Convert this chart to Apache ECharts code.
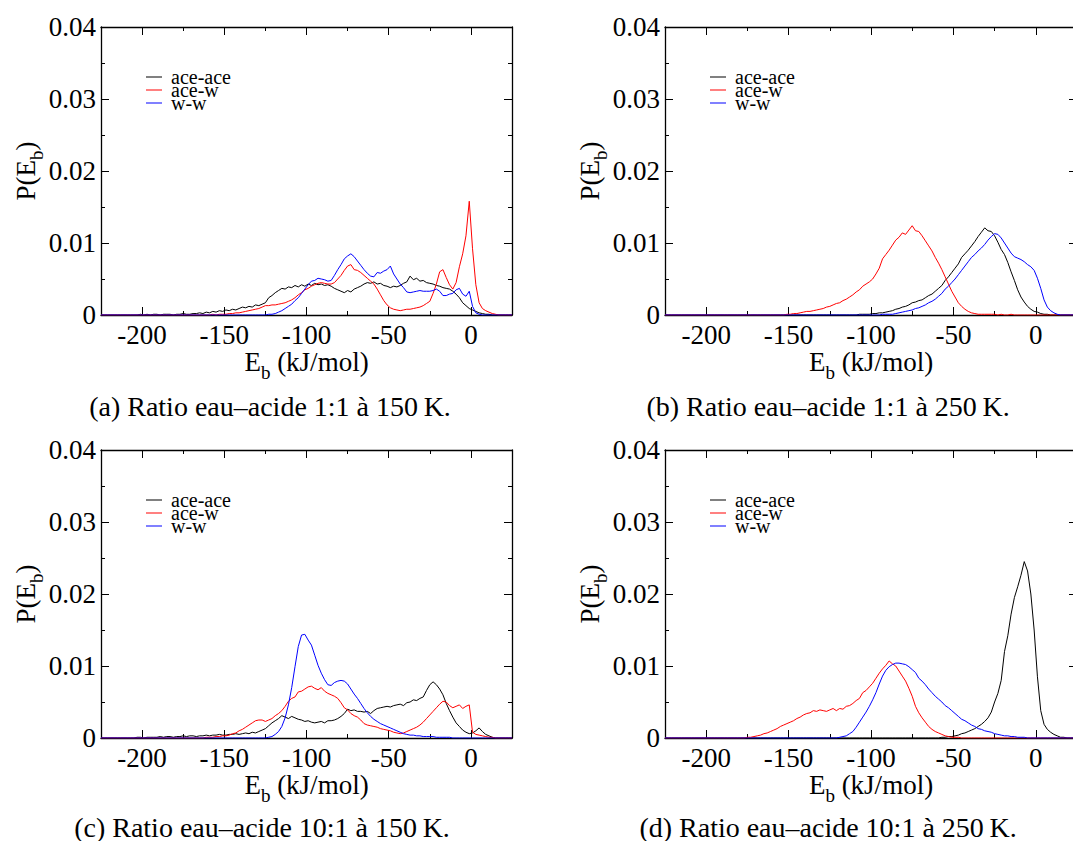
<!DOCTYPE html>
<html><head><meta charset="utf-8">
<script src="https://cdn.jsdelivr.net/npm/echarts@6/dist/echarts.min.js"></script>
<style>html,body{margin:0;padding:0;background:#fff}#c{width:1073px;height:841px}</style>
</head><body><div id="c"></div>
<script>
// Binding energy grid E_b (kJ/mol)
const eb = [-225,-223,-221,-219,-217,-215,-213,-211,-209,-207,
 -205,-203,-201,-199,-197,-195,-193,-191,-189,-187,
 -185,-183,-181,-179,-177,-175,-173,-171,-169,-167,
 -165,-163,-161,-159,-157,-155,-153,-151,-149,-147,
 -145,-143,-141,-139,-137,-135,-133,-131,-129,-127,
 -125,-123,-121,-119,-117,-115,-113,-111,-109,-107,
 -105,-103,-101,-99,-97,-95,-93,-91,-89,-87,
 -85,-83,-81,-79,-77,-75,-73,-71,-69,-67,
 -65,-63,-61,-59,-57,-55,-53,-51,-49,-47,
 -45,-43,-41,-39,-37,-35,-33,-31,-29,-27,
 -25,-23,-21,-19,-17,-15,-13,-11,-9,-7,
 -5,-3,-1,1,3,5,7,9,11,13,
 15,17,19,21,23,25];

// P(E_b) values in units of 1e-4
// (a) 1:1 at 150 K
const aAceAce = [0,0,0,0,0,0,0,0,0,0, 0,0,1,0,1,0,1,1,0,1, 1,1,0,1,1,2,1,1,2,2, 3,2,4,3,5,4,6,5,7,6,
 8,7,9,11,10,12,11,14,13,15, 17,24,27,31,34,37,36,39,38,41, 39,42,40,43,41,44,42,43,41,42,
 40,37,35,33,31,34,32,36,38,40, 43,45,44,46,43,44,41,40,38,40, 39,41,44,46,54,49,51,47,48,45,
 44,43,41,40,38,37,36,33,29,24, 17,13,9,7,5,3,2,1,1,0, 0,0,0,0,0,0];
const aAceW = [0,0,0,0,0,0,0,0,0,0, 0,0,0,0,0,0,0,0,0,0, 0,0,0,0,0,0,0,0,0,0, 0,0,0,0,1,0,1,1,1,2,
 2,3,3,4,5,6,7,8,9,11, 13,13,14,14,15,16,17,19,21,24, 28,31,35,37,40,42,44,45,44,43,
 43,45,50,55,62,68,70,63,62,59, 55,51,47,43,36,28,20,14,10,8, 7,6,7,8,8,9,10,11,13,16,
 19,30,43,60,63,52,42,36,45,67, 85,110,158,92,42,17,9,6,4,2, 1,0,0,0,0,0];
const aWW = [0,0,0,0,0,0,0,0,0,0, 0,0,0,0,0,0,0,0,0,0, 0,0,0,0,0,0,0,0,0,0, 0,0,0,0,0,0,0,0,0,0,
 0,0,0,0,0,0,0,0,0,0, 0,1,1,2,4,6,9,12,15,20, 24,30,36,42,47,48,51,50,49,47,
 48,55,63,70,78,82,85,81,75,69, 63,58,54,53,59,58,61,63,68,57, 50,43,38,32,31,32,33,34,33,33,
 33,34,36,33,27,27,29,30,35,37, 29,26,33,12,3,1,0,0,0,0, 0,0,0,0,0,0];
// (b) 1:1 at 250 K
const bAceAce = [0,0,0,0,0,0,0,0,0,0, 0,0,0,0,0,0,0,0,0,0, 0,0,0,0,0,0,0,0,0,0, 0,0,0,0,0,0,0,0,0,0,
 0,0,0,0,0,0,0,0,0,0, 0,0,0,0,0,0,0,0,0,1, 1,1,1,2,2,3,3,4,5,6,
 8,9,11,12,14,17,18,20,21,24, 27,29,33,37,41,48,53,59,65,71, 80,85,90,96,102,109,115,121,117,116,
 110,101,91,84,73,60,48,35,25,18, 12,8,5,4,2,1,1,0,0,0, 0,0,0,0,0,0];
const bAceW = [0,0,0,0,0,0,0,0,0,0, 0,0,0,0,0,0,0,0,0,0, 0,0,0,0,0,0,0,0,0,0, 0,0,0,0,0,0,0,1,1,2,
 2,3,4,5,5,6,7,8,9,11, 12,14,16,17,20,22,25,28,32,35, 40,43,46,50,57,65,78,84,90,97,
 104,108,114,112,118,124,117,116,110,103, 96,89,80,72,63,53,43,33,25,17, 12,8,5,3,2,1,1,1,1,1,
 1,0,1,0,0,1,0,0,0,0, 0,0,0,0,0,0,0,0,0,0, 0,0,0,0,0,0];
const bWW = [0,0,0,0,0,0,0,0,0,0, 0,0,0,0,0,0,0,0,0,0, 0,0,0,0,0,0,0,0,0,0, 0,0,0,0,0,0,0,0,0,0,
 0,0,0,0,0,0,0,0,0,0, 0,0,0,0,0,0,0,0,0,0, 0,0,0,0,0,0,1,1,1,1,
 2,3,4,5,6,7,9,10,12,14, 17,19,22,26,30,36,40,45,50,56, 62,68,74,80,84,89,93,98,104,109,
 113,112,107,100,93,86,81,79,77,74, 70,67,62,51,37,21,11,6,3,1, 0,0,0,0,0,0];
// (c) 10:1 at 150 K
const cAceAce = [0,0,0,0,0,0,0,0,0,0, 0,1,1,0,1,1,1,1,2,1, 2,2,1,2,2,3,2,3,3,2, 3,3,4,3,4,4,5,4,4,5,
 5,6,5,6,7,6,8,7,9,11, 13,17,21,24,27,31,29,27,30,28, 26,25,23,24,22,21,22,23,21,24,
 24,25,27,30,34,40,38,39,37,37, 36,37,34,38,41,42,43,44,43,45, 46,47,45,49,50,53,52,55,57,66,
 74,78,74,68,60,48,38,29,21,16, 11,8,6,7,10,14,9,5,3,1, 0,0,0,0,0,0];
const cAceW = [0,0,0,0,0,0,0,0,0,0, 0,0,0,0,0,0,0,0,0,0, 0,0,0,0,0,0,0,0,0,0, 0,0,1,1,1,2,2,3,3,4,
 6,7,10,12,15,18,21,24,25,25, 23,25,27,31,34,38,44,51,55,57, 64,65,68,71,72,69,67,70,65,62,
 60,58,55,49,42,39,34,31,29,25, 20,18,17,16,15,13,12,11,10,8, 7,6,7,9,11,13,15,18,22,27,
 32,37,42,47,51,50,45,42,44,46, 41,44,46,8,5,4,3,2,1,1, 0,0,0,0,0,0];
const cWW = [0,0,0,0,0,0,0,0,0,0, 0,0,0,0,0,0,0,0,0,0, 0,0,0,0,0,0,0,0,0,0, 0,0,0,0,0,0,0,0,0,0,
 0,0,0,0,0,0,0,0,0,0, 0,1,2,5,9,16,28,46,70,99, 127,143,144,136,129,115,101,90,81,74,
 73,77,79,80,79,75,68,61,55,48, 41,35,30,26,23,20,18,16,14,12, 10,8,6,5,4,4,3,3,2,2,
 2,2,1,1,1,1,1,0,0,0, 0,0,0,0,0,0,0,0,0,0, 0,0,0,0,0,0];
// (d) 10:1 at 250 K
const dAceAce = [0,0,0,0,0,0,0,0,0,0, 0,0,0,0,0,0,0,0,0,0, 0,0,0,0,0,0,0,0,0,0, 0,0,0,0,0,0,0,0,0,0,
 0,0,0,0,0,0,0,0,0,0, 0,0,0,0,0,0,0,0,0,0, 0,0,0,0,0,0,0,0,0,0,
 0,0,0,0,0,0,0,0,0,0, 0,0,0,0,1,1,2,2,3,4, 6,7,9,11,13,16,19,23,28,36,
 50,62,80,120,142,172,195,210,226,245, 232,200,150,85,38,19,12,8,5,3, 1,1,0,0,0,0];
const dAceW = [0,0,0,0,0,0,0,0,0,0, 0,0,0,0,0,0,0,0,0,0, 0,0,0,0,0,1,1,2,3,4, 6,7,9,11,13,16,18,20,22,24,
 27,29,32,34,35,38,37,39,38,37, 39,41,38,41,40,44,45,48,52,55, 63,66,71,76,83,90,96,101,107,103,
 100,93,86,79,69,58,44,35,28,22, 16,12,9,7,5,3,2,1,1,1, 0,0,0,0,0,0,0,0,0,0,
 0,0,0,0,0,0,0,0,0,0, 0,0,0,0,0,0,0,0,0,0, 0,0,0,0,0,0];
const dWW = [0,0,0,0,0,0,0,0,0,0, 0,0,0,0,0,0,0,0,0,0, 0,0,0,0,0,0,0,0,0,0, 0,0,0,0,0,0,0,0,0,0,
 0,0,0,0,0,0,0,0,0,0, 0,0,0,1,2,3,6,9,15,22, 29,36,44,53,63,75,86,94,99,102,
 104,104,103,102,99,95,91,83,79,74, 68,63,58,54,50,45,42,38,34,30, 26,24,21,18,16,13,12,10,9,8,
 6,5,4,3,3,2,2,1,1,1, 0,0,0,0,0,0,0,0,0,0, 0,0,0,0,0,0];

const seriesNames = ['ace-ace', 'ace-w', 'w-w'];
const xTickLabels = [-200, -150, -100, -50, 0];
const captions = ['(a) Ratio eau\u2013acide 1:1 \u00e0 150\u2009K.',
                  '(b) Ratio eau\u2013acide 1:1 \u00e0 250\u2009K.',
                  '(c) Ratio eau\u2013acide 10:1 \u00e0 150\u2009K.',
                  '(d) Ratio eau\u2013acide 10:1 \u00e0 250\u2009K.'];
const panelData = [[aAceAce, aAceW, aWW], [bAceAce, bAceW, bWW], [cAceAce, cAceW, cWW], [dAceAce, dAceW, dWW]];

const COLORS = ['#000000', '#ff0000', '#0000ff'];
const FONT = 'Liberation Serif, Times New Roman, serif';
const layout = [
  {left: 101, top: 27, width: 411, capX: 270, capY: 393},
  {left: 665, top: 27, width: 412, capX: 828, capY: 393},
  {left: 101, top: 450, width: 411, capX: 262, capY: 814},
  {left: 665, top: 450, width: 412, capX: 828, capY: 814}
];
const H = 288;
const RICH = {
  a: {fontFamily: FONT, fontSize: 27, color: '#000', lineHeight: 30},
  s: {fontFamily: FONT, fontSize: 19, color: '#000', padding: [22, 0, 0, 0]}
};
const lineSt = {color: '#000', width: 1.3};
const tickSt = {color: '#000', width: 1};

const grids = [], xAxes = [], yAxes = [], series = [], legends = [], titles = [];
layout.forEach((L, g) => {
  grids.push({left: L.left, top: L.top, width: L.width, height: H, containLabel: false, outerBoundsMode: 'none', show: false});
  const xBase = {type: 'value', gridIndex: g, min: -225, max: 25, interval: 50,
    axisLine: {show: true, onZero: false, lineStyle: lineSt},
    axisTick: {show: true, inside: true, length: 4, lineStyle: tickSt},
    minorTick: {show: true, splitNumber: 2, length: 8, lineStyle: tickSt},
    splitLine: {show: false}, minorSplitLine: {show: false}};
  xAxes.push(Object.assign({}, xBase, {position: 'bottom',
    axisLabel: {show: true, customValues: xTickLabels, margin: 6, color: '#000', fontFamily: FONT, fontSize: 27},
    name: '{a|E}{s|b}{a| (kJ/mol)}', nameLocation: 'middle', nameGap: 26, nameMoveOverlap: false,
    nameTextStyle: {fontFamily: FONT, rich: RICH}}));
  xAxes.push(Object.assign({}, xBase, {position: 'top', axisLabel: {show: false}}));
  const yBase = {type: 'value', gridIndex: g, min: 0, max: 0.04, interval: 0.01,
    axisLine: {show: true, onZero: false, lineStyle: lineSt},
    axisTick: {show: true, inside: true, length: 8, lineStyle: tickSt},
    minorTick: {show: true, splitNumber: 2, length: 4, lineStyle: tickSt},
    splitLine: {show: false}, minorSplitLine: {show: false}};
  yAxes.push(Object.assign({}, yBase, {position: 'left',
    axisLabel: {show: true, margin: 5, color: '#000', fontFamily: FONT, fontSize: 27},
    name: '{a|P(E}{s|b}{a|)}', nameLocation: 'middle', nameGap: 55, nameRotate: 90, nameMoveOverlap: false,
    nameTextStyle: {fontFamily: FONT, rich: RICH}}));
  yAxes.push(Object.assign({}, yBase, {position: 'right', axisLabel: {show: false}}));
  panelData[g].forEach((arr, k) => {
    series.push({type: 'line', name: seriesNames[k], xAxisIndex: 2 * g, yAxisIndex: 2 * g,
      data: eb.map((x, i) => [x, arr[i] / 10000]),
      symbol: 'none', showSymbol: false, smooth: false, clip: true,
      lineStyle: {width: 1, color: COLORS[k]}, itemStyle: {color: COLORS[k]}});
  });
  legends.push({data: seriesNames, orient: 'vertical', left: L.left + 45, top: L.top + 40,
    itemWidth: 16, itemHeight: 1.2, itemGap: -7, padding: 0, selectedMode: false,
    icon: 'path://M0,0H16V1H0Z',
    textStyle: {fontFamily: FONT, fontSize: 20, color: '#000', lineHeight: 13, padding: [0, 0, 0, 4]}});
  titles.push({text: captions[g], left: L.capX, top: L.capY, textAlign: 'center', padding: 0,
    textStyle: {fontFamily: FONT, fontSize: 28, lineHeight: 26, fontWeight: 'normal', color: '#000'}});
});

const chart = echarts.init(document.getElementById('c'), null, {renderer: 'svg'});
chart.setOption({
  animation: false,
  backgroundColor: '#fff',
  color: COLORS,
  textStyle: {fontFamily: FONT},
  title: titles,
  legend: legends,
  grid: grids,
  xAxis: xAxes,
  yAxis: yAxes,
  series: series
});
</script>
</body></html>
